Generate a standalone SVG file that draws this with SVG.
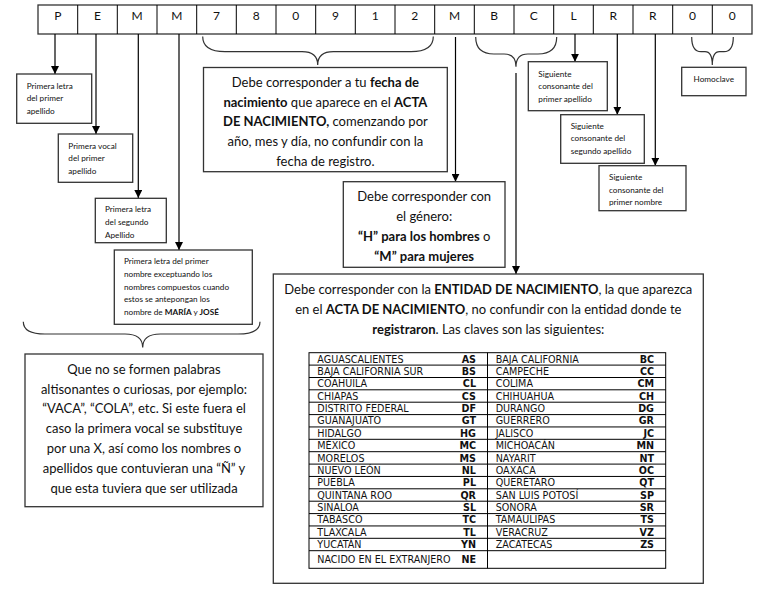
<svg xmlns="http://www.w3.org/2000/svg" width="763" height="591" viewBox="0 0 763 591">
<defs>
<marker id="ah" markerUnits="userSpaceOnUse" markerWidth="8" markerHeight="8" refX="8" refY="4" orient="auto">
<path d="M0,0 L8,4 L0,8 z" fill="#000"/>
</marker>
<style>
.box{fill:#fff;stroke:#333;stroke-width:1.3}
.ln{fill:none;stroke:#000;stroke-width:1.2}
.br{fill:none;stroke:#333;stroke-width:1.2}
.t{font-family:Lato,"Liberation Sans",sans-serif;fill:#111}
.big{font-size:13px}
.sm{font-size:8.2px}
.mid{text-anchor:middle}
.b{font-weight:bold}
.tb{font-family:"DejaVu Sans",Verdana,sans-serif;font-size:9.6px;fill:#111}
.code{font-weight:bold;text-anchor:end}
.grid{fill:none;stroke:#000;stroke-width:1}
.cell{font-family:Lato,"Liberation Sans",sans-serif;font-size:12px;fill:#111;text-anchor:middle}
</style>
</defs>
<rect width="763" height="591" fill="#fff"/>

<g id="code-row">
<rect class="box" x="38" y="5" width="714" height="29"/>
<path class="grid" stroke="#333" d="M77.7,5V34M117.3,5V34M157,5V34M196.7,5V34M236.3,5V34M276,5V34M315.7,5V34M355.3,5V34M395,5V34M434.7,5V34M474.3,5V34M514,5V34M553.7,5V34M593.3,5V34M633,5V34M672.7,5V34M712.3,5V34"/>
<text class="cell" y="20"><tspan x="57.8">P</tspan><tspan x="97.5">E</tspan><tspan x="137.2">M</tspan><tspan x="176.8">M</tspan><tspan x="216.5">7</tspan><tspan x="256.2">8</tspan><tspan x="295.8">0</tspan><tspan x="335.5">9</tspan><tspan x="375.2">1</tspan><tspan x="414.8">2</tspan><tspan x="454.5">M</tspan><tspan x="494.2">B</tspan><tspan x="533.8">C</tspan><tspan x="573.5">L</tspan><tspan x="613.2">R</tspan><tspan x="652.8">R</tspan><tspan x="692.5">0</tspan><tspan x="732.2">0</tspan></text>
</g>

<g id="connectors">
<path class="ln" d="M55,34V74" marker-end="url(#ah)"/>
<path class="ln" d="M96,34V134" marker-end="url(#ah)"/>
<path class="ln" d="M138.3,34V198" marker-end="url(#ah)"/>
<path class="ln" d="M179,34V250" marker-end="url(#ah)"/>
<path class="ln" d="M455.5,37V181.7" marker-end="url(#ah)"/>
<path class="ln" d="M516,73V274" marker-end="url(#ah)"/>
<path class="ln" d="M575,34V61.7" marker-end="url(#ah)"/>
<path class="ln" d="M617.3,34V114.7" marker-end="url(#ah)"/>
<path class="ln" d="M655.3,34V165.7" marker-end="url(#ah)"/>
<path class="br" d="M202.7,36.5C202.7,47 211,51.7 225,51.7L302,51.7C312,51.7 317.7,56 317.7,65C317.7,56 323.4,51.7 333.4,51.7L411,51.7C425,51.7 433.3,47 433.3,36.5"/>
<path class="br" d="M475.7,37C475.7,49 482,54 494,54L504,54C512,54 516,59 516,66.7C516,59 520,54 528,54L538,54C550,54 556.7,49 556.7,37"/>
<path class="br" d="M691.7,37C691.7,47 695,51.7 701,51.7L705,51.7C710,51.7 712.3,56 712.3,65C712.3,56 714.6,51.7 719.6,51.7L724,51.7C730,51.7 733.3,47 733.3,37"/>
<path class="br" d="M23.3,321.7C23.3,330 30,334 45,334L125,334C137,334 142.7,339 142.7,347.5C142.7,339 148.4,334 160.4,334L238,334C253,334 260,330 260,321.7"/>
</g>

<g id="n-primera-letra">
<rect class="box" x="16.7" y="74" width="75" height="49.3"/>
<text class="t sm" x="26.7"><tspan x="26.7" y="89">Primera letra</tspan><tspan x="26.7" y="101.3">del primer</tspan><tspan x="26.7" y="114">apellido</tspan></text>
</g>

<g id="n-primera-vocal">
<rect class="box" x="58.3" y="134" width="74.4" height="48.3"/>
<text class="t sm"><tspan x="68.3" y="149">Primera vocal</tspan><tspan x="68.3" y="161">del primer</tspan><tspan x="68.3" y="174">apellido</tspan></text>
</g>

<g id="n-segundo-apellido">
<rect class="box" x="95.3" y="198.3" width="71" height="44.4"/>
<text class="t sm"><tspan x="105" y="212">Primera letra</tspan><tspan x="105" y="225">del segundo</tspan><tspan x="105" y="238">Apellido</tspan></text>
</g>

<g id="n-primer-nombre">
<rect class="box" x="114.3" y="250" width="138" height="74.3"/>
<text class="t sm"><tspan x="124" y="263.7">Primera letra del primer</tspan><tspan x="124" y="276.7">nombre exceptuando los</tspan><tspan x="124" y="289.7">nombres compuestos cuando</tspan><tspan x="124" y="302">estos se antepongan los</tspan><tspan x="124" y="314.7">nombre de <tspan class="b">MARÍA</tspan> y <tspan class="b">JOSÉ</tspan></tspan></text>
</g>

<g id="n-altisonantes">
<rect class="box" x="25" y="354" width="238" height="152.7"/>
<text class="t big mid"><tspan x="144" y="373.8">Que no se formen palabras</tspan><tspan x="144" y="393.6">altisonantes o curiosas, por ejemplo:</tspan><tspan x="144" y="413.4">“VACA”, “COLA”, etc. Si este fuera el</tspan><tspan x="144" y="433.2">caso la primera vocal se substituye</tspan><tspan x="144" y="453">por una X, así como los nombres o</tspan><tspan x="144" y="472.8">apellidos que contuvieran una “Ñ” y</tspan><tspan x="144" y="492.6">que esta tuviera que ser utilizada</tspan></text>
</g>

<g id="n-fecha">
<rect class="box" x="203.5" y="67.5" width="243.8" height="104.2"/>
<text class="t big mid"><tspan x="325.4" y="87">Debe corresponder a tu <tspan class="b">fecha de</tspan></tspan><tspan x="325.4" y="106.7"><tspan class="b">nacimiento</tspan> que aparece en el <tspan class="b">ACTA</tspan></tspan><tspan x="325.4" y="126.4"><tspan class="b">DE NACIMIENTO,</tspan> comenzando por</tspan><tspan x="325.4" y="146.1">año, mes y día, no confundir con la</tspan><tspan x="325.4" y="165.8">fecha de registro.</tspan></text>
</g>

<g id="n-genero">
<rect class="box" x="343.3" y="181.7" width="161.7" height="85.6"/>
<text class="t big mid"><tspan x="424.2" y="201.2">Debe corresponder con</tspan><tspan x="424.2" y="221.2">el género:</tspan><tspan x="424.2" y="241.2"><tspan class="b">“H” para los hombres</tspan> o</tspan><tspan x="424.2" y="261.2" class="b">“M” para mujeres</tspan></text>
</g>

<g id="n-entidad">
<rect class="box" x="273.3" y="274" width="430" height="309.3"/>
<text class="t big mid"><tspan x="488.3" y="293.8">Debe corresponder con la <tspan class="b">ENTIDAD DE NACIMIENTO</tspan>, la que aparezca</tspan><tspan x="488.3" y="313.8">en el <tspan class="b">ACTA DE NACIMIENTO</tspan>, no confundir con la entidad donde te</tspan><tspan x="488.3" y="333.8"><tspan class="b">registraron</tspan>. Las claves son las siguientes:</tspan></text>
<g id="tabla">
<rect class="grid" x="309" y="352.7" width="356.7" height="215.6"/>
<path class="grid" d="M487.5,352.7V568.3M309,365.1H665.7M309,377.5H665.7M309,389.8H665.7M309,402.2H665.7M309,414.6H665.7M309,426.95H665.7M309,439.3H665.7M309,451.7H665.7M309,464.1H665.7M309,476.45H665.7M309,488.8H665.7M309,501.2H665.7M309,513.6H665.7M309,525.95H665.7M309,538.3H665.7M309,550.7H665.7"/>
<text class="tb"><tspan x="317.3" y="362.5">AGUASCALIENTES</tspan><tspan x="317.3" y="374.9">BAJA CALIFORNIA SUR</tspan><tspan x="317.3" y="387.3">COAHUILA</tspan><tspan x="317.3" y="399.6">CHIAPAS</tspan><tspan x="317.3" y="412">DISTRITO FEDERAL</tspan><tspan x="317.3" y="424.4">GUANAJUATO</tspan><tspan x="317.3" y="436.8">HIDALGO</tspan><tspan x="317.3" y="449.1">MÉXICO</tspan><tspan x="317.3" y="461.5">MORELOS</tspan><tspan x="317.3" y="473.9">NUEVO LEÓN</tspan><tspan x="317.3" y="486.3">PUEBLA</tspan><tspan x="317.3" y="498.6">QUINTANA ROO</tspan><tspan x="317.3" y="511">SINALOA</tspan><tspan x="317.3" y="523.4">TABASCO</tspan><tspan x="317.3" y="535.8">TLAXCALA</tspan><tspan x="317.3" y="548.1">YUCATÁN</tspan><tspan x="317.3" y="562.8">NACIDO EN EL EXTRANJERO</tspan></text>
<text class="tb code"><tspan x="476" y="362.5">AS</tspan><tspan x="476" y="374.9">BS</tspan><tspan x="476" y="387.3">CL</tspan><tspan x="476" y="399.6">CS</tspan><tspan x="476" y="412">DF</tspan><tspan x="476" y="424.4">GT</tspan><tspan x="476" y="436.8">HG</tspan><tspan x="476" y="449.1">MC</tspan><tspan x="476" y="461.5">MS</tspan><tspan x="476" y="473.9">NL</tspan><tspan x="476" y="486.3">PL</tspan><tspan x="476" y="498.6">QR</tspan><tspan x="476" y="511">SL</tspan><tspan x="476" y="523.4">TC</tspan><tspan x="476" y="535.8">TL</tspan><tspan x="476" y="548.1">YN</tspan><tspan x="476" y="562.8">NE</tspan></text>
<text class="tb"><tspan x="495.7" y="362.5">BAJA CALIFORNIA</tspan><tspan x="495.7" y="374.9">CAMPECHE</tspan><tspan x="495.7" y="387.3">COLIMA</tspan><tspan x="495.7" y="399.6">CHIHUAHUA</tspan><tspan x="495.7" y="412">DURANGO</tspan><tspan x="495.7" y="424.4">GUERRERO</tspan><tspan x="495.7" y="436.8">JALISCO</tspan><tspan x="495.7" y="449.1">MICHOACÁN</tspan><tspan x="495.7" y="461.5">NAYARIT</tspan><tspan x="495.7" y="473.9">OAXACA</tspan><tspan x="495.7" y="486.3">QUERÉTARO</tspan><tspan x="495.7" y="498.6">SAN LUIS POTOSÍ</tspan><tspan x="495.7" y="511">SONORA</tspan><tspan x="495.7" y="523.4">TAMAULIPAS</tspan><tspan x="495.7" y="535.8">VERACRUZ</tspan><tspan x="495.7" y="548.1">ZACATECAS</tspan></text>
<text class="tb code"><tspan x="654" y="362.5">BC</tspan><tspan x="654" y="374.9">CC</tspan><tspan x="654" y="387.3">CM</tspan><tspan x="654" y="399.6">CH</tspan><tspan x="654" y="412">DG</tspan><tspan x="654" y="424.4">GR</tspan><tspan x="654" y="436.8">JC</tspan><tspan x="654" y="449.1">MN</tspan><tspan x="654" y="461.5">NT</tspan><tspan x="654" y="473.9">OC</tspan><tspan x="654" y="486.3">QT</tspan><tspan x="654" y="498.6">SP</tspan><tspan x="654" y="511">SR</tspan><tspan x="654" y="523.4">TS</tspan><tspan x="654" y="535.8">VZ</tspan><tspan x="654" y="548.1">ZS</tspan></text>
</g>
</g>

<g id="n-sig-primer-apellido">
<rect class="box" x="528.3" y="61.7" width="79" height="49"/>
<text class="t sm"><tspan x="538.3" y="77">Siguiente</tspan><tspan x="538.3" y="89.3">consonante del</tspan><tspan x="538.3" y="102">primer apellido</tspan></text>
</g>

<g id="n-sig-segundo-apellido">
<rect class="box" x="560.7" y="114.7" width="83.6" height="48.6"/>
<text class="t sm"><tspan x="570.7" y="129.3">Siguiente</tspan><tspan x="570.7" y="141.3">consonante del</tspan><tspan x="570.7" y="154">segundo apellido</tspan></text>
</g>

<g id="n-sig-primer-nombre">
<rect class="box" x="599" y="165.7" width="87" height="45"/>
<text class="t sm"><tspan x="609" y="180">Siguiente</tspan><tspan x="609" y="193">consonante del</tspan><tspan x="609" y="205.3">primer nombre</tspan></text>
</g>

<g id="n-homoclave">
<rect class="box" x="681.7" y="67.3" width="64.3" height="28.4"/>
<text class="t sm mid" x="713.8" y="81.7">Homoclave</text>
</g>
</svg>
